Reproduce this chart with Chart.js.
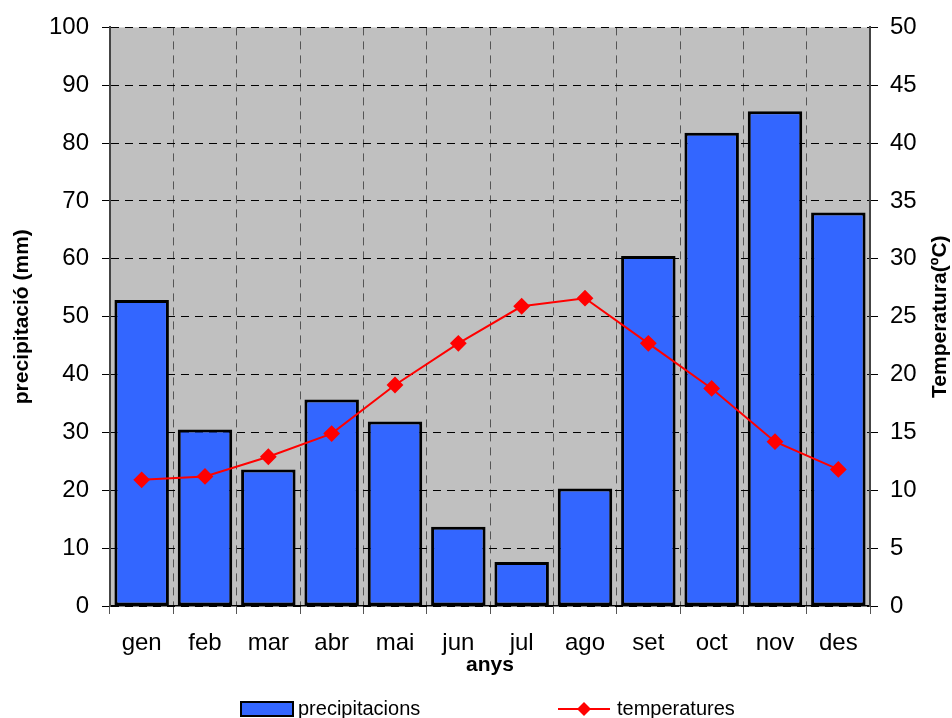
<!DOCTYPE html>
<html>
<head>
<meta charset="utf-8">
<script src="https://cdn.jsdelivr.net/npm/chart.js@4/dist/chart.umd.min.js"></script>
<style>
  html, body { margin: 0; padding: 0; background: #fff; }
  #wrap { width: 952px; height: 718px; }
</style>
</head>
<body>
<div id="wrap"><canvas id="myChart" width="952" height="718"></canvas></div>
<script>
const months = ["gen", "feb", "mar", "abr", "mai", "jun", "jul", "ago", "set", "oct", "nov", "des"];
const precipitacions = [52.9, 30.5, 23.6, 35.7, 31.9, 13.7, 7.6, 20.3, 60.5, 81.8, 85.5, 68.0];
const temperatures = [10.9, 11.2, 12.9, 14.9, 19.1, 22.7, 25.9, 26.6, 22.7, 18.8, 14.2, 11.8];
const precipTicks = [0, 10, 20, 30, 40, 50, 60, 70, 80, 90, 100];
const tempTicks = [0, 5, 10, 15, 20, 25, 30, 35, 40, 45, 50];

const fontFamily = "'Liberation Sans', Arial, sans-serif";

// gray plot background
const plotBg = {
  id: "plotBg",
  beforeDraw(chart) {
    const a = chart.chartArea;
    const ctx = chart.ctx;
    ctx.save();
    ctx.fillStyle = "#c0c0c0";
    ctx.fillRect(a.left, a.top, a.right - a.left, a.bottom - a.top);
    ctx.restore();
  }
};

// right axis title (reads bottom to top) and bottom legend
const extras = {
  id: "extras",
  afterDraw(chart) {
    const ctx = chart.ctx;
    const a = chart.chartArea;
    ctx.save();
    ctx.font = "bold 21px " + fontFamily;
    ctx.fillStyle = "#000";
    ctx.textAlign = "center";
    ctx.textBaseline = "middle";
    ctx.translate(940, (a.top + a.bottom) / 2);
    ctx.rotate(-Math.PI / 2);
    ctx.fillText("Temperatura(ºC)", 0, 0);
    ctx.restore();

    const bars = chart.data.datasets[1];
    const line = chart.data.datasets[0];
    const y = 709;
    ctx.save();
    ctx.font = "20px " + fontFamily;
    ctx.textBaseline = "middle";
    ctx.textAlign = "left";
    // bar item
    ctx.fillStyle = bars.backgroundColor;
    ctx.fillRect(241, y - 7, 52, 14);
    ctx.strokeStyle = "#000";
    ctx.lineWidth = 2;
    ctx.strokeRect(241, y - 7, 52, 14);
    ctx.fillStyle = "#000";
    ctx.fillText(bars.label, 298, y);
    // line item
    ctx.strokeStyle = line.borderColor;
    ctx.lineWidth = 2;
    ctx.beginPath();
    ctx.moveTo(558, y);
    ctx.lineTo(610, y);
    ctx.stroke();
    ctx.fillStyle = line.pointBackgroundColor;
    ctx.beginPath();
    ctx.moveTo(584, y - 7);
    ctx.lineTo(591, y);
    ctx.lineTo(584, y + 7);
    ctx.lineTo(577, y);
    ctx.closePath();
    ctx.fill();
    ctx.fillStyle = "#000";
    ctx.fillText(line.label, 617, y);
    ctx.restore();
  }
};

const config = {
  data: {
    labels: months,
    datasets: [
      {
        type: "line",
        label: "temperatures",
        data: temperatures,
        yAxisID: "y1",
        borderColor: "#ff0000",
        backgroundColor: "#ff0000",
        pointBackgroundColor: "#ff0000",
        pointBorderColor: "#ff0000",
        borderWidth: 2,
        pointStyle: "rectRot",
        pointRadius: 7,
        tension: 0,
        order: 0
      },
      {
        type: "bar",
        label: "precipitacions",
        data: precipitacions,
        yAxisID: "y",
        backgroundColor: "#3366ff",
        borderColor: "#000000",
        borderWidth: 3,
        borderSkipped: false,
        categoryPercentage: 1.0,
        barPercentage: 0.86,
        order: 1
      }
    ]
  },
  options: {
    responsive: false,
    animation: false,
    layout: { padding: { top: 24, bottom: 40, left: 0, right: 0 } },
    plugins: {
      legend: { display: false },
      tooltip: { enabled: false }
    },
    scales: {
      x: {
        offset: true,
        afterFit(s) { s.height = 72; },
        grid: {
          offset: true,
          color: "#555555",
          lineWidth: 1,
          tickLength: 8,
          tickColor: "#555555",
          tickBorderDash: []
        },
        border: { display: true, color: "#000", width: 1.5, dash: [8, 6] },
        ticks: {
          color: "#000",
          font: { family: fontFamily, size: 24 },
          padding: 15,
          maxRotation: 0,
          autoSkip: false
        },
        title: {
          display: true,
          text: "anys",
          color: "#000",
          font: { family: fontFamily, size: 21, weight: "bold" },
          padding: { top: 0, bottom: 0 }
        }
      },
      y: {
        position: "left",
        min: 0,
        max: 100,
        afterFit(s) { s.width = 110; },
        afterBuildTicks(s) { s.ticks = precipTicks.map(v => ({ value: v })); },
        grid: {
          color: "#000",
          lineWidth: 1,
          tickLength: 8,
          tickColor: "#000",
          tickBorderDash: []
        },
        border: { display: true, color: "#444", width: 2, dash: [8, 6] },
        ticks: {
          color: "#000",
          font: { family: fontFamily, size: 24 },
          padding: 13
        },
        title: {
          display: true,
          text: "precipitació (mm)",
          color: "#000",
          font: { family: fontFamily, size: 21, weight: "bold" },
          padding: { top: 10, bottom: 0 }
        }
      },
      y1: {
        position: "right",
        min: 0,
        max: 50,
        afterFit(s) { s.width = 82; },
        afterBuildTicks(s) { s.ticks = tempTicks.map(v => ({ value: v })); },
        grid: {
          drawOnChartArea: false,
          tickLength: 8,
          tickColor: "#000"
        },
        border: { display: true, color: "#444", width: 2 },
        ticks: {
          color: "#000",
          font: { family: fontFamily, size: 24 },
          padding: 12
        }
      }
    }
  },
  plugins: [plotBg, extras]
};

const myChart = new Chart(document.getElementById("myChart"), config);
</script>
</body>
</html>
